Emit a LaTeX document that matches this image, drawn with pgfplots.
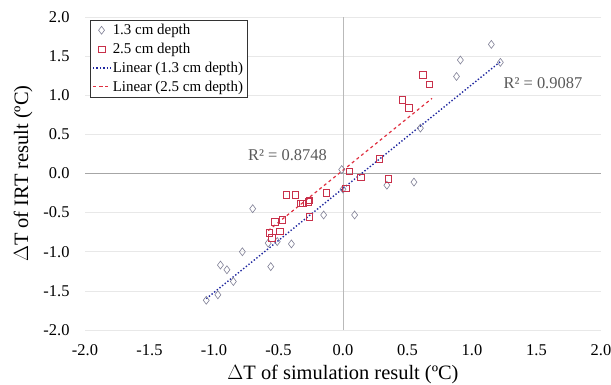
\documentclass[border=0pt]{standalone}
\usepackage{pgfplots}
\pgfplotsset{compat=1.18}
\usepackage{fontspec}
\setmainfont{Liberation Serif}
\definecolor{dia}{HTML}{7F7F95}
\definecolor{sq}{HTML}{C8304A}
\definecolor{bl}{HTML}{2028A0}
\definecolor{rd}{HTML}{E03040}
\definecolor{rtxt}{HTML}{595959}
\begin{document}
\begin{tikzpicture}
\path[use as bounding box] (0,0) rectangle (611bp,385bp);
\begin{axis}[
  at={(85bp,55bp)}, anchor=south west,
  scale only axis, width=516bp, height=313bp,
  xmin=-2, xmax=2, ymin=-2, ymax=2,
  axis line style={draw=none},
  tick style={draw=none},
  xtick={-2,-1.5,-1,-0.5,0,0.5,1,1.5,2},
  xticklabels={-2.0,-1.5,-1.0,-0.5,0.0,0.5,1.0,1.5,2.0},
  ytick={-2,-1.5,-1,-0.5,0,0.5,1,1.5,2},
  yticklabels={-2.0,-1.5,-1.0,-0.5,0.0,0.5,1.0,1.5,2.0},
  ymajorgrids, grid style={gray!18, line width=0.6pt},
  extra x ticks={0}, extra x tick labels={},
  extra x tick style={xmajorgrids, grid style={gray!55, line width=0.6pt}},
  extra y ticks={0}, extra y tick labels={},
  extra y tick style={ymajorgrids, grid style={gray!70, line width=0.9pt}},
  tick label style={font=\fontsize{16.5}{18}\selectfont},
  xticklabel style={yshift=-11bp},
  yticklabel style={xshift=-12bp},
  xlabel={$\Delta$T of simulation result (ºC)},
  ylabel={$\Delta$T of IRT result (ºC)},
  label style={font=\fontsize{20.5}{22}\selectfont},
  xlabel style={at={(axis description cs:0.5,-0.143)}, anchor=center},
  ylabel style={at={(axis description cs:-0.120,0.5)}, anchor=center},
  legend style={at={(0.01,0.99)}, anchor=north west, draw=black!80,
    font=\fontsize{15}{17}\selectfont, row sep=3bp, inner sep=2bp},
  legend cell align=left,
]
\addplot[only marks, mark=diamond, mark size=4pt, draw=dia, mark options={line width=0.6pt}]
coordinates {
(1.15,1.65) (0.91,1.45) (0.88,1.24) (1.22,1.42) (0.60,0.58)
(0.55,-0.11) (0.34,-0.15) (-0.01,0.05) (0.00,-0.20) (0.09,-0.53)
(-0.15,-0.53) (-0.70,-0.45) (-0.58,-0.89) (-0.51,-0.87) (-0.40,-0.90)
(-0.78,-1.00) (-0.56,-1.19) (-0.95,-1.17) (-0.90,-1.23) (-0.85,-1.38)
(-0.97,-1.55) (-1.06,-1.62)
};
\addlegendentry{1.3 cm depth}
\addplot[only marks, mark=square, mark size=3.3pt, draw=sq, mark options={line width=0.6pt}]
coordinates {
(0.62,1.26) (0.67,1.14) (0.46,0.94) (0.51,0.84) (0.28,0.19)
(0.35,-0.07) (0.05,0.03) (0.14,-0.05) (0.02,-0.19) (-0.26,-0.55)
(-0.13,-0.25) (-0.26,-0.34) (-0.31,-0.38) (-0.44,-0.27) (-0.37,-0.27)
(-0.33,-0.38) (-0.27,-0.36) (-0.53,-0.62) (-0.47,-0.59) (-0.49,-0.74)
(-0.57,-0.76) (-0.55,-0.82)
};
\addlegendentry{2.5 cm depth}
\addplot[bl, dotted, line width=1.4pt] coordinates {(-1.06,-1.60) (1.22,1.43)};
\addlegendentry{Linear (1.3 cm depth)}
\addplot[rd, dashed, line width=1.2pt] coordinates {(-0.58,-0.73) (0.69,0.96)};
\addlegendentry{Linear (2.5 cm depth)}
\node[text=rtxt, font=\fontsize{16.5}{18}\selectfont] at (axis cs:-0.43,0.24) {R² = 0.8748};
\node[text=rtxt, font=\fontsize{16.5}{18}\selectfont] at (axis cs:1.55,1.16) {R² = 0.9087};
\end{axis}
\end{tikzpicture}
\end{document}
